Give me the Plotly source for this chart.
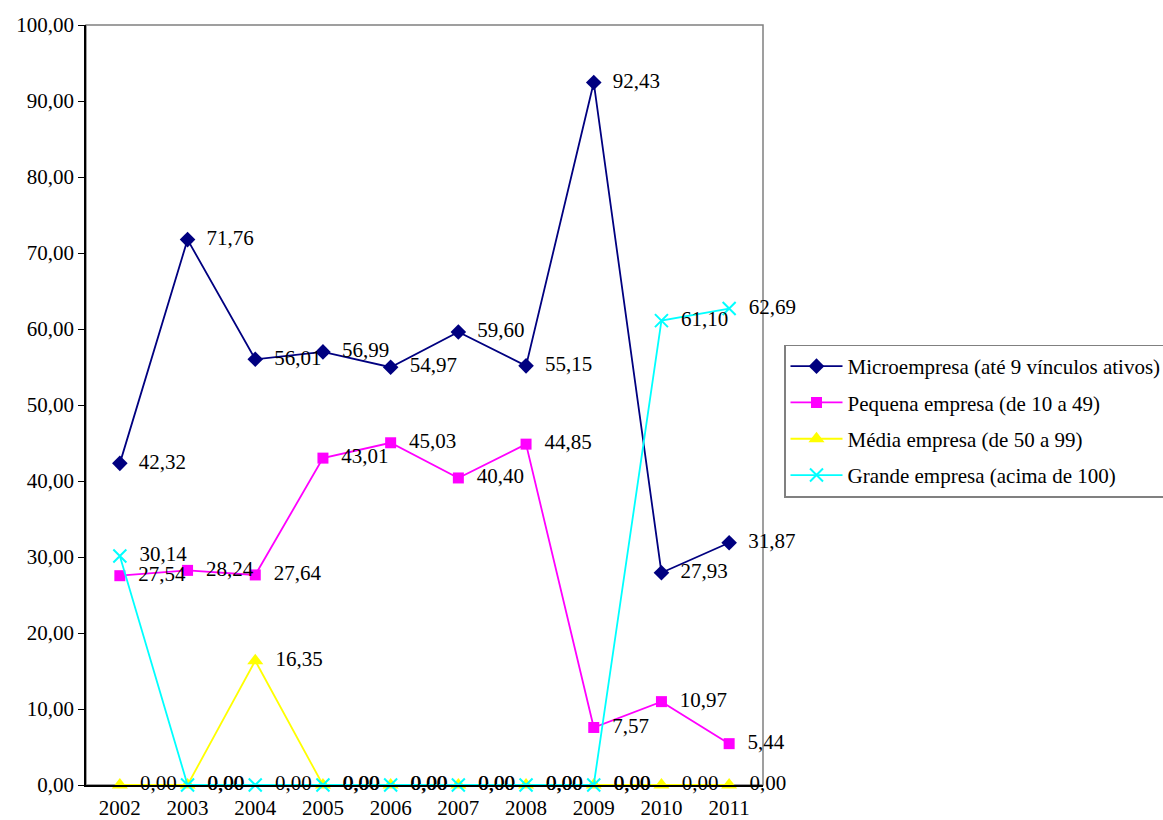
import plotly.graph_objects as go

years = ["2002", "2003", "2004", "2005", "2006", "2007", "2008", "2009", "2010", "2011"]
micro = [42.32, 71.76, 56.01, 56.99, 54.97, 59.60, 55.15, 92.43, 27.93, 31.87]
pequena = [27.54, 28.24, 27.64, 43.01, 45.03, 40.40, 44.85, 7.57, 10.97, 5.44]
media = [0.00, 0.00, 16.35, 0.00, 0.00, 0.00, 0.00, 0.00, 0.00, 0.00]
grande = [30.14, 0.00, 0.00, 0.00, 0.00, 0.00, 0.00, 0.00, 61.10, 62.69]

names = ["Microempresa (até 9 vínculos ativos)", "Pequena empresa (de 10 a 49)",
         "Média empresa (de 50 a 99)", "Grande empresa (acima de 100)"]

FONT = "Times New Roman, Liberation Serif, DejaVu Serif, serif"
FS = 21

series = [
    (micro, names[0], "#000080", dict(symbol="diamond", size=12)),
    (pequena, names[1], "#FF00FF", dict(symbol="square", size=11)),
    (media, names[2], "#FFFF00", dict(symbol="triangle-up", size=14)),
    (grande, names[3], "#00FFFF", dict(symbol="x-thin", size=13, line=dict(width=2, color="#00FFFF"))),
]

fig = go.Figure()
for i, (vals, name, color, mk) in enumerate(series):
    fig.add_trace(go.Scatter(
        x=years, y=vals, name=name, mode="lines+markers+text",
        line=dict(color=color, width=1.8),
        marker=dict(color=color, **mk),
        texttemplate="  %{y:.2f}", textposition="middle right",
        textfont=dict(family=FONT, size=FS, color="black"),
        legendgroup=f"g{i}",
        cliponaxis=False,
    ))

fig.update_layout(
    width=1163, height=820,
    paper_bgcolor="white", plot_bgcolor="white",
    margin=dict(l=86, r=400, t=25, b=35, autoexpand=False),
    separators=",.",
    font=dict(family=FONT, size=FS, color="black"),
    showlegend=True,
    legend=dict(xref="container", yref="container", x=784 / 1163, xanchor="left",
                y=1 - 421 / 820, yanchor="middle",
                bordercolor="#808080", borderwidth=1.5, bgcolor="white",
                font=dict(family=FONT, size=FS), tracegroupgap=6, itemwidth=52),
    xaxis=dict(type="category", range=[-0.5, 9.5], showgrid=False, zeroline=False,
               showline=True, linecolor="black", linewidth=1.5, ticks="outside",
               ticklen=3, tickcolor="rgba(0,0,0,0)", automargin=False),
    yaxis=dict(range=[0, 100], dtick=10, tickformat=".2f", showgrid=False, zeroline=False,
               showline=True, linecolor="black", linewidth=1.5, ticks="outside",
               ticklen=6, tickcolor="black", automargin=False),
    shapes=[dict(type="rect", xref="paper", yref="paper", x0=0, x1=1, y0=0, y1=1,
                 line=dict(color="#808080", width=1.5), layer="below")],
)

fig.write_html("out.html", config={"displayModeBar": False},
               post_script="document.body.style.margin='0px';")
